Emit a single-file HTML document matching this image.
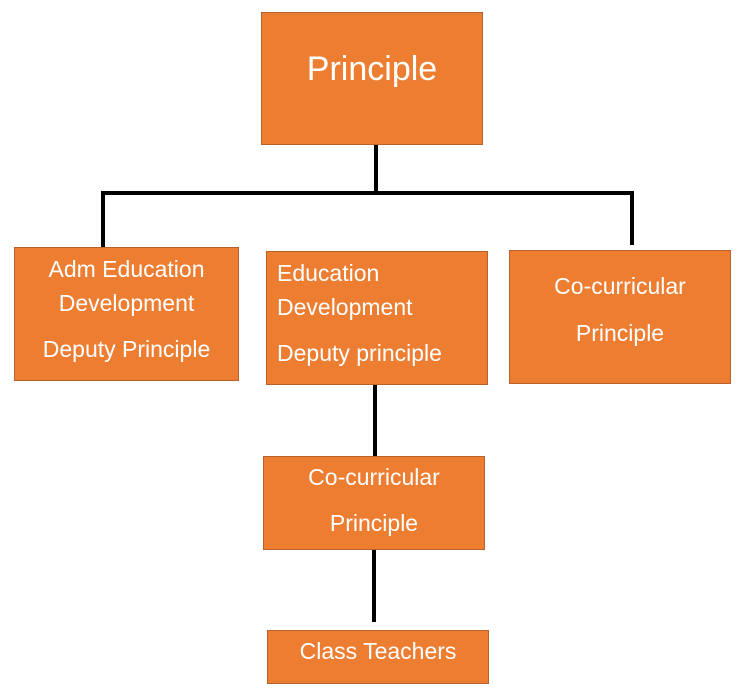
<!DOCTYPE html>
<html><head><style>
body{margin:0;width:744px;height:699px;background:#fff;position:relative;overflow:hidden;font-family:"Liberation Sans",sans-serif}
.b{position:absolute;background:#ED7D31;border:1px solid #B8612A;box-sizing:border-box;color:#fff;font-size:23px}
.b div{position:absolute;white-space:nowrap}
.l{position:absolute;background:#000}
</style></head><body>
<div class="l" style="left:374px;top:144px;width:4px;height:50px"></div>
<div class="l" style="left:101px;top:191px;width:533px;height:4px"></div>
<div class="l" style="left:101px;top:191px;width:4px;height:56px"></div>
<div class="l" style="left:630px;top:191px;width:4px;height:54px"></div>
<div class="l" style="left:373px;top:384px;width:4px;height:72px"></div>
<div class="l" style="left:372px;top:549px;width:4px;height:73px"></div>

<div class="b" style="left:261px;top:12px;width:222px;height:133px"><div style="left:0;width:220px;text-align:center;top:37px;font-size:34px">Principle</div></div>

<div class="b" style="left:14px;top:247px;width:225px;height:134px">
<div style="left:0;width:223px;text-align:center;top:8px">Adm Education</div>
<div style="left:0;width:223px;text-align:center;top:42px">Development</div>
<div style="left:0;width:223px;text-align:center;top:88px">Deputy Principle</div>
</div>

<div class="b" style="left:266px;top:251px;width:222px;height:134px">
<div style="left:10px;top:8px">Education</div>
<div style="left:10px;top:42px">Development</div>
<div style="left:10px;top:88px">Deputy principle</div>
</div>

<div class="b" style="left:509px;top:250px;width:222px;height:134px">
<div style="left:0;width:220px;text-align:center;top:22px">Co-curricular</div>
<div style="left:0;width:220px;text-align:center;top:69px">Principle</div>
</div>

<div class="b" style="left:263px;top:456px;width:222px;height:94px">
<div style="left:0;width:220px;text-align:center;top:7px">Co-curricular</div>
<div style="left:0;width:220px;text-align:center;top:53px">Principle</div>
</div>

<div class="b" style="left:267px;top:630px;width:222px;height:54px">
<div style="left:0;width:220px;text-align:center;top:7px">Class Teachers</div>
</div>
</body></html>
